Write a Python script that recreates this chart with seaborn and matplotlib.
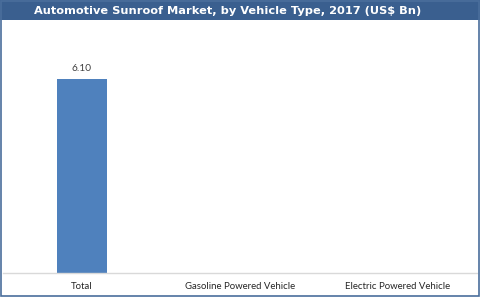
import numpy as np
import pandas as pd
import seaborn as sns
import matplotlib
matplotlib.use("Agg")
import matplotlib.pyplot as plt
from matplotlib.patches import Rectangle

categories = ["Total", "Gasoline Powered Vehicle", "Electric Powered Vehicle"]
values = [6.10, np.nan, np.nan]
value_labels = ["6.10", "", ""]
title = "Automotive Sunroof Market, by Vehicle Type, 2017 (US$ Bn)"

sns.set_theme(style="white")
plt.rcParams['font.family'] = ['Lato', 'DejaVu Sans']

W, H = 480, 297
fig = plt.figure(figsize=(W / 100, H / 100), dpi=100)
fig.patch.set_facecolor("white")

# title bar
fig.patches.append(Rectangle((0, 1 - 20 / H), 1, 20 / H, transform=fig.transFigure,
                             facecolor="#3A5F8F", edgecolor="none", zorder=0))
fig.text(228 / W, 1 - 10.5 / H, title, ha="center", va="center", color="white",
         fontsize=8.2, fontweight="bold", family=["DejaVu Sans"])
# border
border_col = "#4A6E9C"
fig.patches.append(Rectangle((0.5 / W, 1.5 / H), (W - 2) / W, (H - 2) / H,
                             transform=fig.transFigure, facecolor="none",
                             edgecolor=border_col, linewidth=1.2, zorder=1))

ax_left, ax_right = 3, 477
ax_bottom, ax_top = 273, 50.4
ax = fig.add_axes([ax_left / W, 1 - ax_bottom / H, (ax_right - ax_left) / W,
                   (ax_bottom - ax_top) / H])

df = pd.DataFrame({"category": categories, "value": values})
sns.barplot(data=df, x="category", y="value", color="#4F81BD", saturation=1,
            width=0.32, linewidth=0, ax=ax)
ax.set_ylim(0, 7)
ax.set_xlim(-0.5, 2.5)

for i, (v, lab) in enumerate(zip(values, value_labels)):
    if lab:
        ax.text(i, v + 0.18, lab, ha="center", va="bottom", fontsize=7.3,
                color="#404040")

ax.set_xlabel("")
ax.set_ylabel("")
ax.set_yticks([])
ax.tick_params(axis="x", length=0, labelsize=6.9, colors="#262626", pad=6.5)
for s in ["top", "right", "left"]:
    ax.spines[s].set_visible(False)
ax.spines["bottom"].set_color("#D9D9D9")
ax.spines["bottom"].set_linewidth(1)
ax.set_facecolor("none")

fig.savefig("out.png", dpi=100, facecolor="white")
